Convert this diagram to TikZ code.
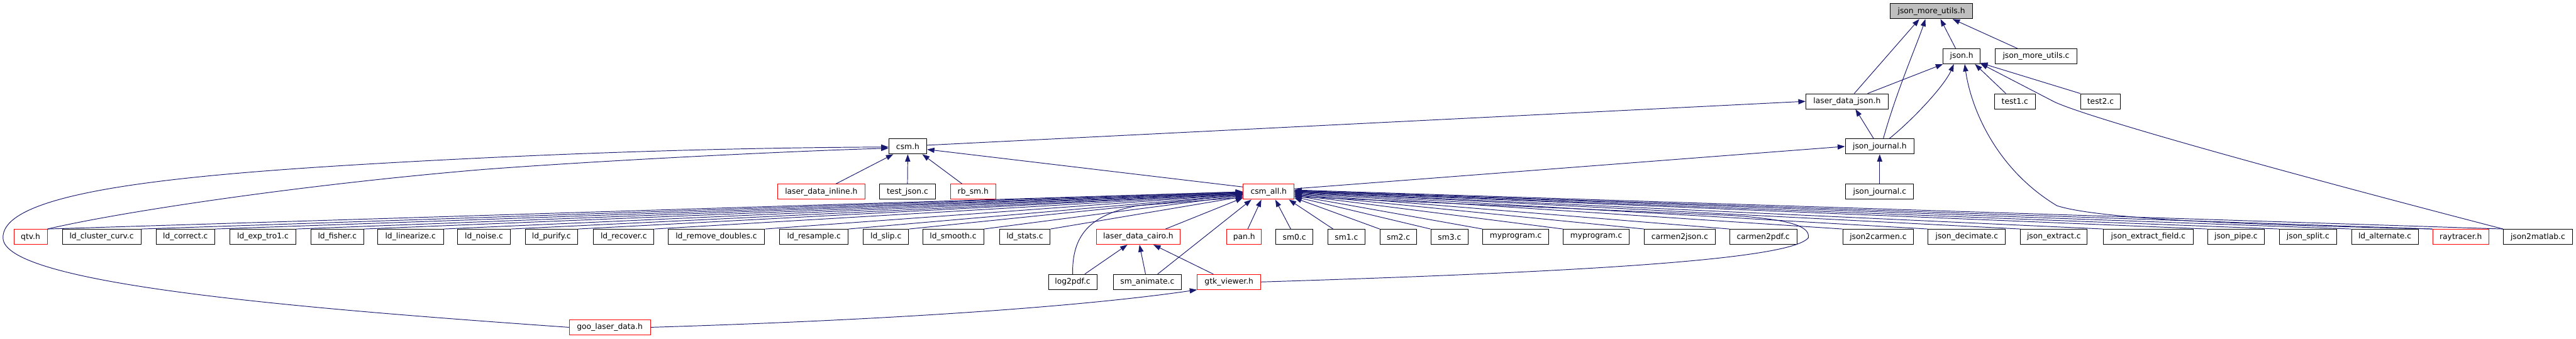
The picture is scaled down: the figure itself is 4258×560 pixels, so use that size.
\documentclass[tikz,border=0pt]{standalone}
\usepackage{fontspec}
\setmainfont{DejaVu Sans}
\usetikzlibrary{arrows.meta,calc}
\definecolor{navy}{HTML}{191970}
\definecolor{dred}{HTML}{FF0000}
\definecolor{rootgray}{HTML}{BFBFBF}
\tikzset{
 nb/.style={draw=black, line width=1pt, fill=white, minimum height=25pt, inner sep=0pt, font=\fontsize{12.8}{14}\selectfont},
 rb/.style={nb, draw=dred},
 rootbox/.style={nb, fill=rootgray},
 edge/.style={draw=navy, line width=1pt, -{Triangle[length=12pt,width=8.5pt]}},
}
\begin{document}
\begin{tikzpicture}[x=1pt,y=-1pt]
\useasboundingbox (0,0) rectangle (4258,560);
% row 0
\node[rootbox, minimum width=137pt] (jmuh) at (3192.5,18.5) {json\_more\_utils.h};
% row 1
\node[nb, minimum width=61pt] (jsonh) at (3242.5,93) {json.h};
\node[nb, minimum width=135pt] (jmuc) at (3365.5,93) {json\_more\_utils.c};
% row 2
\node[nb, minimum width=136pt] (ldjson) at (3053,167.5) {laser\_data\_json.h};
\node[nb, minimum width=67pt] (test1) at (3330.5,167.5) {test1.c};
\node[nb, minimum width=66pt] (test2) at (3472,167.5) {test2.c};
% row 3
\node[nb, minimum width=63pt] (csmh) at (1500.5,242) {csm.h};
\node[nb, minimum width=114pt] (jjh) at (3107,242) {json\_journal.h};
% row 4
\node[rb, minimum width=145pt] (ldinline) at (1357.5,317) {laser\_data\_inline.h};
\node[nb, minimum width=92pt] (testjson) at (1500,317) {test\_json.c};
\node[rb, minimum width=75pt] (rbsm) at (1608.5,317) {rb\_sm.h};
\node[rb, minimum width=84pt] (csmall) at (2097,317) {csm\_all.h};
\node[nb, minimum width=112pt] (jjc) at (3107,317) {json\_journal.c};
% row 5
\node[rb, minimum width=55pt] (qtv) at (50.5,391.5) {qtv.h};
\node[nb, minimum width=130pt] (ldcc) at (168,391.5) {ld\_cluster\_curv.c};
\node[nb, minimum width=97pt] (ldcor) at (306.5,391.5) {ld\_correct.c};
\node[nb, minimum width=109pt] (ldexp) at (434.5,391.5) {ld\_exp\_tro1.c};
\node[nb, minimum width=87pt] (ldfish) at (557.5,391.5) {ld\_fisher.c};
\node[nb, minimum width=109pt] (ldlin) at (678.5,391.5) {ld\_linearize.c};
\node[nb, minimum width=88pt] (ldnoise) at (800,391.5) {ld\_noise.c};
\node[nb, minimum width=87pt] (ldpur) at (911.5,391.5) {ld\_purify.c};
\node[nb, minimum width=100pt] (ldrec) at (1031,391.5) {ld\_recover.c};
\node[nb, minimum width=160pt] (ldremd) at (1184,391.5) {ld\_remove\_doubles.c};
\node[nb, minimum width=113pt] (ldres) at (1345.5,391.5) {ld\_resample.c};
\node[nb, minimum width=75pt] (ldslip) at (1464.5,391.5) {ld\_slip.c};
\node[nb, minimum width=101pt] (ldsmooth) at (1575.5,391.5) {ld\_smooth.c};
\node[nb, minimum width=84pt] (ldstats) at (1694,391.5) {ld\_stats.c};
\node[rb, minimum width=139pt] (ldcairo) at (1881.5,391.5) {laser\_data\_cairo.h};
\node[rb, minimum width=57pt] (pan) at (2056.5,391.5) {pan.h};
\node[nb, minimum width=61pt] (sm0) at (2139.5,391.5) {sm0.c};
\node[nb, minimum width=61pt] (sm1) at (2225.5,391.5) {sm1.c};
\node[nb, minimum width=61pt] (sm2) at (2311.5,391.5) {sm2.c};
\node[nb, minimum width=62pt] (sm3) at (2396,391.5) {sm3.c};
\node[nb, minimum width=109pt] (myp1) at (2505.5,391.5) {myprogram.c};
\node[nb, minimum width=109pt] (myp2) at (2638.5,391.5) {myprogram.c};
\node[nb, minimum width=117pt] (c2j) at (2776.5,391.5) {carmen2json.c};
\node[nb, minimum width=111pt] (c2p) at (2914.5,391.5) {carmen2pdf.c};
\node[nb, minimum width=117pt] (j2c) at (3104.5,391.5) {json2carmen.c};
\node[nb, minimum width=128pt] (jdec) at (3251,391.5) {json\_decimate.c};
\node[nb, minimum width=110pt] (jext) at (3395,391.5) {json\_extract.c};
\node[nb, minimum width=148pt] (jextf) at (3551,391.5) {json\_extract\_field.c};
\node[nb, minimum width=94pt] (jpipe) at (3696,391.5) {json\_pipe.c};
\node[nb, minimum width=94pt] (jsplit) at (3815,391.5) {json\_split.c};
\node[nb, minimum width=110pt] (ldalt) at (3942,391.5) {ld\_alternate.c};
\node[rb, minimum width=93pt] (ray) at (4067.5,391.5) {raytracer.h};
\node[nb, minimum width=114pt] (j2m) at (4195,391.5) {json2matlab.c};
% row 6
\node[nb, minimum width=80pt] (log2pdf) at (1773,466) {log2pdf.c};
\node[nb, minimum width=113pt] (smanim) at (1896.5,466) {sm\_animate.c};
\node[rb, minimum width=105pt] (gtk) at (2031.5,466) {gtk\_viewer.h};
% row 7
\node[rb, minimum width=134pt] (goo) at (1008,541) {goo\_laser\_data.h};

% ---- edges into json_more_utils.h
\draw[edge] ($(ldjson.north)+(12,0)$) -- ($(jmuh.south)+(-20,0)$);
\draw[edge] ($(jjh.north)+(6,0)$) .. controls (3135,150) and (3170,70) .. ($(jmuh.south)+(-10,0)$);
\draw[edge] ($(jsonh.north)+(-10,0)$) -- ($(jmuh.south)+(15,0)$);
\draw[edge] ($(jmuc.north)+(-31,0)$) -- ($(jmuh.south)+(35,0)$);
% ---- edges into json.h
\draw[edge] ($(ldjson.north)+(34,0)$) -- (jsonh.south west);
\draw[edge] ($(jjh.north)+(16,0)$) .. controls (3165,195) and (3215,140) .. ($(jsonh.south)+(-13,0)$);
\draw[edge] (ray.north west) .. controls (3800,373) and (3480,366) .. (3400,340) .. controls (3300,280) and (3258,180) .. ($(jsonh.south)+(5,0)$);
\draw[edge] ($(test1.north)+(-15,0)$) -- ($(jsonh.south)+(22,0)$);
\draw[edge] (test2.north west) -- ($(jsonh.south east)+(0,-2)$);
\draw[edge] (j2m.north west) .. controls (3700,265) and (3440,190) .. (3395,168) -- ($(jsonh.south east)+(0,-1)$);
% ---- laser_data_json.h
\draw[edge] ($(csmh.east)+(0,-2)$) -- (ldjson.west);
\draw[edge] ($(jjh.north)+(-10,0)$) -- ($(ldjson.south)+(14,0)$);
% ---- json_journal.h
\draw[edge] ($(csmall.east)+(0,-5)$) -- (jjh.west);
\draw[edge] (jjc.north) -- (jjh.south);
% ---- csm.h
\draw[edge] ($(csmall.north west)+(0,5)$) -- ($(csmh.east)+(0,5)$);
\draw[edge] ($(ldinline.north)+(24,0)$) -- ($(csmh.south)+(-24,0)$);
\draw[edge] (testjson.north) -- (csmh.south);
\draw[edge] ($(rbsm.north)+(-18,0)$) -- ($(csmh.south)+(24,0)$);
\draw[edge] (qtv.north east) .. controls (200,350) and (500,305) .. (800,280) .. controls (1000,265) and (1300,250) .. ($(csmh.west)+(0,3)$);
\draw[edge] (goo.west) .. controls (500,510) and (5,470) .. (5,393) .. controls (3,310) and (350,285) .. (700,266) .. controls (1000,250) and (1250,244) .. ($(csmh.west)+(0,1)$);
% ---- gtk_viewer.h, laser_data_cairo.h
\draw[edge] (goo.east) .. controls (1500,528) and (1800,505) .. (gtk.south west);
\draw[edge] ($(log2pdf.north)+(20,0)$) -- ($(ldcairo.south)+(-18,0)$);
\draw[edge] ($(smanim.north)+(-3,0)$) -- ($(ldcairo.south)+(2,0)$);
\draw[edge] ($(gtk.north)+(-26,0)$) -- ($(ldcairo.south)+(25,0)$);
% ---- csm_all.h from below
\draw[edge] (log2pdf.north) .. controls (1772,390) and (1800,355) .. (1880,340) -- ($(csmall.west)+(0,9)$);
\draw[edge] ($(smanim.north)+(17,0)$) -- ($(csmall.south west)+(14,0)$);
\draw[edge] ($(pan.north)+(6,0)$) -- ($(csmall.south)+(-12,0)$);
\draw[edge] ($(sm0.north)+(-6,0)$) -- ($(csmall.south)+(11,0)$);
\draw[edge] ($(ldcairo.north)+(45,0)$) -- ($(csmall.south west)+(0,-3)$);
\draw[edge] ($(sm1.north)+(-22,0)$) -- ($(csmall.south east)+(-9,0)$);
\draw[edge] (gtk.east) .. controls (2600,450) and (2960,430) .. (2989,393) .. controls (2993,372) and (2950,362) .. (2860,356) -- ($(csmall.east)+(0,8)$);
% ---- csm_all.h from the left
\draw[edge] (qtv.north east) -- ($(csmall.west)+(0,0)$);
\draw[edge] (ldcc.north east) -- ($(csmall.west)+(0,0)$);
\draw[edge] (ldcor.north east) -- ($(csmall.west)+(0,1)$);
\draw[edge] (ldexp.north east) -- ($(csmall.west)+(0,1)$);
\draw[edge] (ldfish.north east) -- ($(csmall.west)+(0,2)$);
\draw[edge] (ldlin.north east) -- ($(csmall.west)+(0,2)$);
\draw[edge] (ldnoise.north east) -- ($(csmall.west)+(0,3)$);
\draw[edge] (ldpur.north east) -- ($(csmall.west)+(0,3)$);
\draw[edge] (ldrec.north east) -- ($(csmall.west)+(0,4)$);
\draw[edge] (ldremd.north east) -- ($(csmall.west)+(0,4)$);
\draw[edge] (ldres.north east) -- ($(csmall.west)+(0,5)$);
\draw[edge] (ldslip.north east) -- ($(csmall.west)+(0,5)$);
\draw[edge] (ldsmooth.north east) -- ($(csmall.west)+(0,6)$);
\draw[edge] (ldstats.north east) -- ($(csmall.west)+(0,8)$);
% ---- csm_all.h from the right
\draw[edge] (sm2.north west) -- ($(csmall.east)+(0,10)$);
\draw[edge] (sm3.north west) -- ($(csmall.east)+(0,8)$);
\draw[edge] (myp1.north west) -- ($(csmall.east)+(0,6)$);
\draw[edge] (myp2.north west) -- ($(csmall.east)+(0,5)$);
\draw[edge] (c2j.north west) -- ($(csmall.east)+(0,4)$);
\draw[edge] (c2p.north west) -- ($(csmall.east)+(0,3)$);
\draw[edge] (j2c.north west) -- ($(csmall.east)+(0,2)$);
\draw[edge] (jdec.north west) -- ($(csmall.east)+(0,1)$);
\draw[edge] (jext.north west) -- ($(csmall.east)+(0,0)$);
\draw[edge] (jextf.north west) -- ($(csmall.east)+(0,0)$);
\draw[edge] (jpipe.north west) -- ($(csmall.east)+(0,-1)$);
\draw[edge] (jsplit.north west) -- ($(csmall.east)+(0,-1)$);
\draw[edge] (ldalt.north west) -- ($(csmall.east)+(0,-2)$);
\draw[edge] (ray.north west) -- ($(csmall.east)+(0,-2)$);
\draw[edge] (j2m.north west) -- ($(csmall.east)+(0,-3)$);
\end{tikzpicture}
\end{document}
